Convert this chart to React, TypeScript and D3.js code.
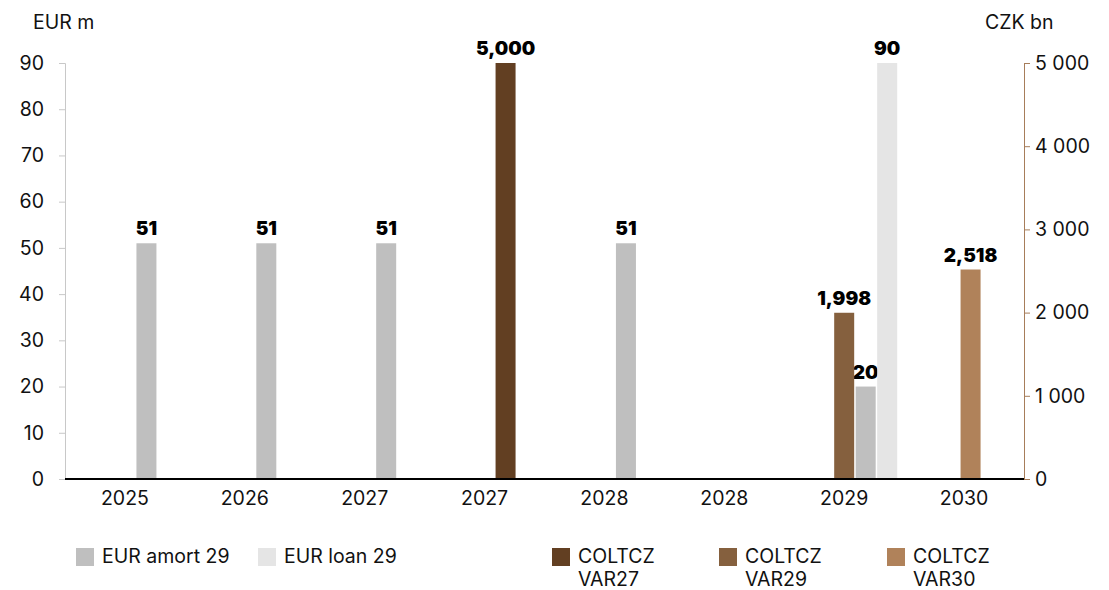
import * as d3 from "d3";
import React, { useEffect, useRef } from "react";

const categories = ["2025", "2026", "2027", "2027", "2028", "2028", "2029", "2030"];

const eurAmort29 = [51, 51, 51, null, 51, null, 20, null];
const eurLoan29 = [null, null, null, null, null, null, 90, null];
const coltczVar27 = [null, null, null, 5000, null, null, null, null];
const coltczVar29 = [null, null, null, null, null, null, 1998, null];
const coltczVar30 = [null, null, null, null, null, null, null, 2518];

const leftTicks = [0, 10, 20, 30, 40, 50, 60, 70, 80, 90];
const rightTicks = [0, 1000, 2000, 3000, 4000, 5000];

type Series = {
  name: string[];
  values: (number | null)[];
  axis: "left" | "right";
  color: string;
};

const series: Series[] = [
  { name: ["EUR amort 29"], values: eurAmort29, axis: "left", color: "#bfbfbf" },
  { name: ["EUR loan 29"], values: eurLoan29, axis: "left", color: "#e5e5e5" },
  { name: ["COLTCZ", "VAR27"], values: coltczVar27, axis: "right", color: "#623f22" },
  { name: ["COLTCZ", "VAR29"], values: coltczVar29, axis: "right", color: "#85603e" },
  { name: ["COLTCZ", "VAR30"], values: coltczVar30, axis: "right", color: "#b0825a" },
];

// bar offset (from category centre) for each series, in px
const barOffset = [21.5, 43, 21, 0, 6.5];
const barWidth = 20;

const FONT = "Inter, 'Open Sans', sans-serif";
const FS = "19.5px";

const App: React.FC = () => {
  const chartRef = useRef<SVGSVGElement>(null);

  useEffect(() => {
    document.body.style.margin = "0";
    if (!chartRef.current) return;
    const svg = d3.select(chartRef.current);
    svg.selectAll("*").remove();

    const left = 65;
    const right = 1024;
    const top = 63;
    const bottom = 479;

    const x = d3
      .scaleBand<number>()
      .domain(categories.map((_, i) => i))
      .range([left, right])
      .padding(0);
    const yL = d3.scaleLinear().domain([0, 90]).range([bottom, top]);
    const yR = d3.scaleLinear().domain([0, 5000]).range([bottom, top]);

    // left axis
    const gl = svg
      .append("g")
      .attr("transform", `translate(${left},0)`)
      .call(d3.axisLeft(yL).tickValues(leftTicks).tickSize(6).tickPadding(15));
    gl.selectAll("path, line").attr("stroke", "#c8c8c8");
    gl.selectAll("text")
      .style("font-family", FONT)
      .style("font-size", FS)
      .attr("fill", "#111");

    // right axis
    const gr = svg
      .append("g")
      .attr("transform", `translate(${right},0)`)
      .call(
        d3
          .axisRight(yR)
          .tickValues(rightTicks)
          .tickSize(6)
          .tickPadding(5)
          .tickFormat((d) => d3.format(",")(d as number).replace(/,/g, " "))
      );
    gr.selectAll("path, line").attr("stroke", "#a77d5a");
    gr.selectAll("text")
      .style("font-family", FONT)
      .style("font-size", FS)
      .attr("fill", "#111");

    // bars
    series.forEach((s, si) => {
      const y = s.axis === "left" ? yL : yR;
      const data = s.values
        .map((v, i) => ({ v, i }))
        .filter((d) => d.v !== null) as { v: number; i: number }[];
      const cx = (i: number) =>
        (x(i) || 0) + x.bandwidth() / 2 + barOffset[si];

      svg
        .append("g")
        .selectAll("rect")
        .data(data)
        .enter()
        .append("rect")
        .attr("x", (d) => cx(d.i) - barWidth / 2)
        .attr("width", barWidth)
        .attr("y", (d) => y(d.v))
        .attr("height", (d) => bottom - y(d.v))
        .attr("fill", s.color);

      svg
        .append("g")
        .selectAll("text")
        .data(data)
        .enter()
        .append("text")
        .attr("x", (d) => cx(d.i))
        .attr("y", (d) => y(d.v) - 8)
        .attr("text-anchor", "middle")
        .style("font-family", FONT)
        .style("font-size", "19px")
        .style("font-weight", "900")
        .attr("fill", "#000")
        .text((d) => d3.format(",")(d.v));
    });

    // baseline
    svg
      .append("line")
      .attr("x1", left)
      .attr("x2", right)
      .attr("y1", bottom)
      .attr("y2", bottom)
      .attr("stroke", "#000")
      .attr("stroke-width", 2);

    // category labels
    svg
      .append("g")
      .selectAll("text")
      .data(categories)
      .enter()
      .append("text")
      .attr("x", (_, i) => (x(i) || 0) + x.bandwidth() / 2)
      .attr("y", 505)
      .attr("text-anchor", "middle")
      .style("font-family", FONT)
      .style("font-size", FS)
      .attr("fill", "#111")
      .text((d) => d);

    // axis titles
    svg
      .append("text")
      .attr("x", 33)
      .attr("y", 29)
      .style("font-family", FONT)
      .style("font-size", FS)
      .attr("fill", "#111")
      .text("EUR m");
    svg
      .append("text")
      .attr("x", 985)
      .attr("y", 29)
      .style("font-family", FONT)
      .style("font-size", FS)
      .attr("fill", "#111")
      .text("CZK bn");

    // legend
    const legendX = [76, 258, 552, 719, 887];
    series.forEach((s, si) => {
      const g = svg.append("g").attr("transform", `translate(${legendX[si]},545)`);
      g.append("rect").attr("y", 3).attr("width", 18).attr("height", 18).attr("fill", s.color);
      s.name.forEach((line, li) => {
        g.append("text")
          .attr("x", 26)
          .attr("y", 18 + li * 22.5)
          .style("font-family", FONT)
          .style("font-size", FS)
          .attr("fill", "#111")
          .text(line);
      });
    });
  }, []);

  return <svg ref={chartRef} width={1109} height={590} style={{ display: "block" }} />;
};

export default App;
